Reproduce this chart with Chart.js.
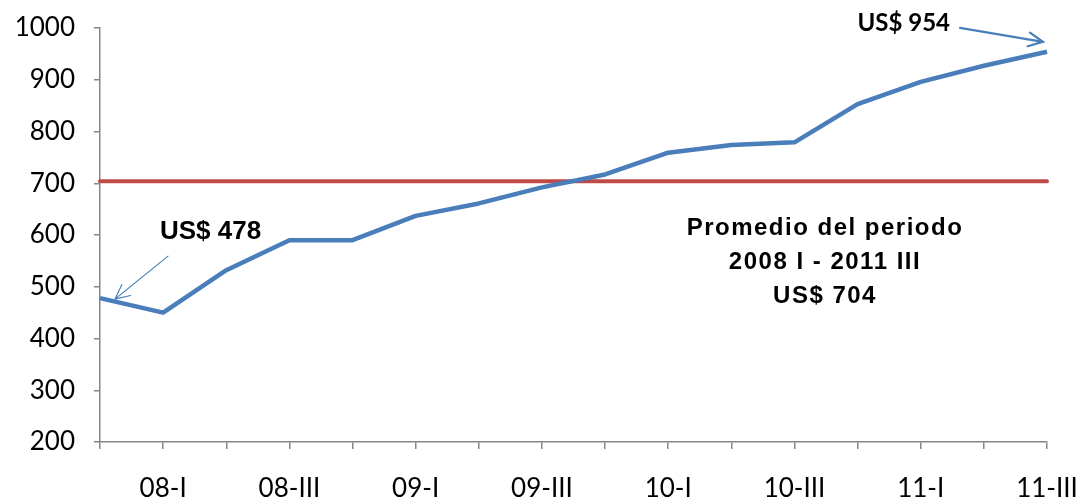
<!DOCTYPE html>
<html>
<head>
<meta charset="utf-8">
<script src="https://cdn.jsdelivr.net/npm/chart.js@4/dist/chart.umd.min.js"></script>
<style>
  html, body { margin: 0; padding: 0; background: #fff; }
  #wrap { width: 1081px; height: 502px; }
</style>
</head>
<body>
<div id="wrap"><canvas id="chart" width="1081" height="502"></canvas></div>
<script>
// quarters, first point is the last quarter of 2007
const quarters = ['07-IV', '08-I', '08-II', '08-III', '08-IV', '09-I', '09-II', '09-III', '09-IV',
                  '10-I', '10-II', '10-III', '10-IV', '11-I', '11-II', '11-III'];
const salary = [478, 450, 532, 590, 590, 637, 661, 692, 717, 759, 774, 779, 853, 896, 927, 954];
const average = [704, 704, 704, 704, 704, 704, 704, 704, 704, 704, 704, 704, 704, 704, 704, 704];
const yTicks = [200, 300, 400, 500, 600, 700, 800, 900, 1000];

const axisGrey = '#868686';

function arrow(ctx, x1, y1, x2, y2, head, width) {
    const a = Math.atan2(y2 - y1, x2 - x1);
    ctx.save();
    ctx.strokeStyle = '#4A7EBB';
    ctx.lineWidth = width;
    ctx.lineCap = 'round';
    ctx.beginPath();
    ctx.moveTo(x1, y1);
    ctx.lineTo(x2, y2);
    ctx.moveTo(x2 - head * Math.cos(a - 0.45), y2 - head * Math.sin(a - 0.45));
    ctx.lineTo(x2, y2);
    ctx.lineTo(x2 - head * Math.cos(a + 0.45), y2 - head * Math.sin(a + 0.45));
    ctx.stroke();
    ctx.restore();
}

const notes = {
    id: 'notes',
    afterDraw(chart) {
        const ctx = chart.ctx;
        const pts = chart.getDatasetMeta(0).data;
        const first = pts[0], last = pts[pts.length - 1];
        const yAvg = chart.scales.y.getPixelForValue(average[0]);

        ctx.save();
        ctx.fillStyle = '#000';
        ctx.textBaseline = 'middle';

        ctx.font = 'bold 26px "Liberation Sans", Arial';
        ctx.textAlign = 'left';
        ctx.fillText('US$ ' + salary[0], first.x + 60, first.y - 66);
        arrow(ctx, first.x + 68, first.y - 42, first.x + 15, first.y + 1, 16, 1.2);

        ctx.font = 'bold 24px Lato';
        ctx.textAlign = 'right';
        ctx.fillText('US$ ' + salary[salary.length - 1], last.x - 97, last.y - 29);
        arrow(ctx, last.x - 87, last.y - 24, last.x - 4, last.y - 10, 16, 2.2);

        ctx.font = 'bold 24px "Liberation Sans", Arial';
        ctx.letterSpacing = '1.5px';
        ctx.textAlign = 'center';
        const cx = 825;
        ctx.fillText('Promedio del periodo', cx, yAvg + 47);
        ctx.fillText('2008 I - 2011 III', cx, yAvg + 81);
        ctx.fillText('US$ ' + average[0], cx, yAvg + 115);
        ctx.restore();
    }
};

new Chart(document.getElementById('chart'), {
    type: 'line',
    data: {
        labels: quarters,
        datasets: [{
            data: salary,
            borderColor: '#4A7EBB',
            borderWidth: 4.5,
            pointRadius: 0,
            tension: 0,
            borderJoinStyle: 'round',
            order: 1
        }, {
            data: average,
            borderColor: '#BE4B48',
            borderWidth: 4,
            pointRadius: 0,
            borderCapStyle: 'round',
            order: 2
        }]
    },
    options: {
        responsive: false,
        animation: false,
        layout: { padding: { left: 0, right: 34, top: 28, bottom: 0 } },
        plugins: {
            legend: { display: false },
            tooltip: { enabled: false }
        },
        scales: {
            y: {
                min: 200,
                max: 1000,
                afterFit(scale) { scale.width = 100; scale.paddingTop = 0; scale.paddingBottom = 0; },
                afterBuildTicks(scale) { scale.ticks = yTicks.map(v => ({ value: v })); },
                border: { color: axisGrey, width: 1.5 },
                grid: { drawOnChartArea: false, tickLength: 6, color: axisGrey, lineWidth: 1.5 },
                ticks: {
                    color: '#000',
                    padding: 19,
                    font: { family: 'Lato', size: 26 },
                    callback: v => String(v)
                }
            },
            x: {
                offset: false,
                afterFit(scale) { scale.height = 60; scale.paddingLeft = 0; scale.paddingRight = 0; },
                border: { color: axisGrey, width: 1.5 },
                grid: { drawOnChartArea: false, tickLength: 7, color: axisGrey, lineWidth: 1.5 },
                ticks: {
                    color: '#000',
                    autoSkip: false,
                    maxRotation: 0,
                    padding: 24,
                    font: { family: 'Lato', size: 26 },
                    callback: (v, i) => (i % 2 === 1 ? quarters[i] : '')
                }
            }
        }
    },
    plugins: [notes]
});
</script>
</body>
</html>
